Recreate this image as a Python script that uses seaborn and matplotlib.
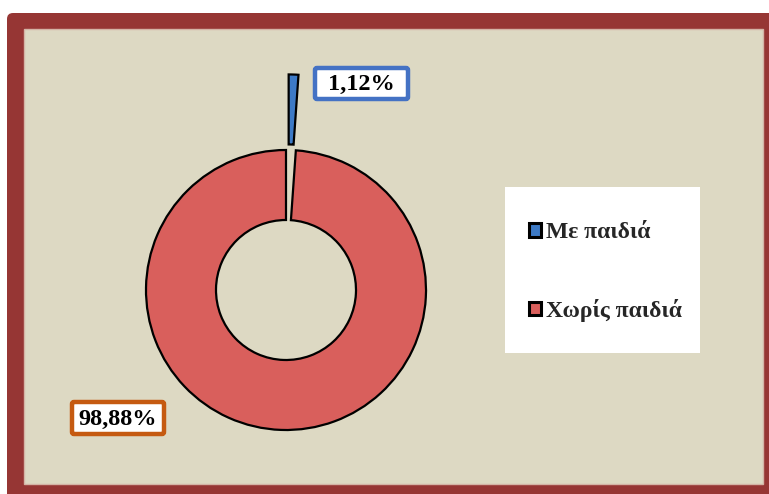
import matplotlib
matplotlib.use("Agg")
import matplotlib.pyplot as plt
from matplotlib.patches import FancyBboxPatch, Rectangle
import seaborn as sns

# ---- data ----
categories = ["Με παιδιά", "Χωρίς παιδιά"]
values = [1.12, 98.88]
value_labels = ["1,12%", "98,88%"]
colors = ["#3D7AC6", "#D95F5C"]
label_box_colors = ["#4472C4", "#C55A11"]

sns.set_style("white")
plt.rcParams["font.family"] = ["Liberation Serif", "DejaVu Serif"]

W, H = 769, 494
fig = plt.figure(figsize=(W / 100, H / 100), dpi=100, facecolor="white")
tr = fig.dpi_scale_trans  # inches, origin bottom-left


def px(x, y_top):
    """pixel (from top-left) -> inches (bottom-left origin)"""
    return x / 100, (H - y_top) / 100


# outer red frame (rounded top-left corner)
x0, y0 = px(7, 13)
frame = FancyBboxPatch((x0, -0.2), 9.0, y0 + 0.2,
                       boxstyle="round,pad=0,rounding_size=0.06",
                       transform=tr, facecolor="#963634", edgecolor="none",
                       zorder=-3)
fig.patches.append(frame)
# inner beige panel
bx, by = px(24, 484)
panel = Rectangle((bx, by), (763 - 24) / 100, (484 - 29) / 100, transform=tr,
                  facecolor="#DDD9C3", edgecolor="#D4B4A6", linewidth=1.0,
                  zorder=-2)
fig.patches.append(panel)

# ---- donut ----
cx, cy, R = 286, 290, 140  # px
L = 1.6
ax = fig.add_axes([(cx - L * R) / W, (H - cy - L * R) / H, 2 * L * R / W, 2 * L * R / H])
wedges, _ = ax.pie(values, colors=colors, startangle=90, counterclock=False,
                   explode=[0.54, 0.0], radius=1.0,
                   wedgeprops=dict(width=0.5, edgecolor="black", linewidth=1.6))
ax.set_xlim(-L, L)
ax.set_ylim(-L, L)
ax.set_aspect("equal")
ax.axis("off")
ax.patch.set_alpha(0)

# ---- value labels ----
boxes = [(313, 66, 410, 101), (70, 400, 166, 436)]
for (l, t, r, b), txt, ec in zip(boxes, value_labels, label_box_colors):
    lx, ly = px(l + 2, b - 2)
    fig.patches.append(FancyBboxPatch((lx, ly), (r - l - 4) / 100, (b - t - 4) / 100,
                                      boxstyle="round,pad=0,rounding_size=0.02",
                                      transform=tr, facecolor="white", edgecolor=ec,
                                      linewidth=3.2, zorder=2))
    tx, ty = px((l + r) / 2, (t + b) / 2 + 1)
    fig.text(tx, ty, txt, transform=tr, ha="center", va="center",
             fontsize=17.5, fontweight="bold", color="black", zorder=3)

# ---- legend ----
lx, ly = px(505, 353)
fig.patches.append(Rectangle((lx, ly), (700 - 505) / 100, (353 - 187) / 100,
                             transform=tr, facecolor="white", edgecolor="none", zorder=1))
leg = fig.legend(wedges, categories, loc="center left",
                 bbox_to_anchor=(529 / W, 1 - 272 / H), frameon=False,
                 prop=dict(family="Liberation Serif", weight="bold", size=17),
                 handlelength=0.5, handleheight=0.5, handletextpad=0.2,
                 labelspacing=2.35, borderpad=0, borderaxespad=0)
for h in leg.legend_handles:
    h.set_linewidth(2.2)
leg.set_zorder(4)

fig.savefig("out.png", dpi=100, facecolor="white")
